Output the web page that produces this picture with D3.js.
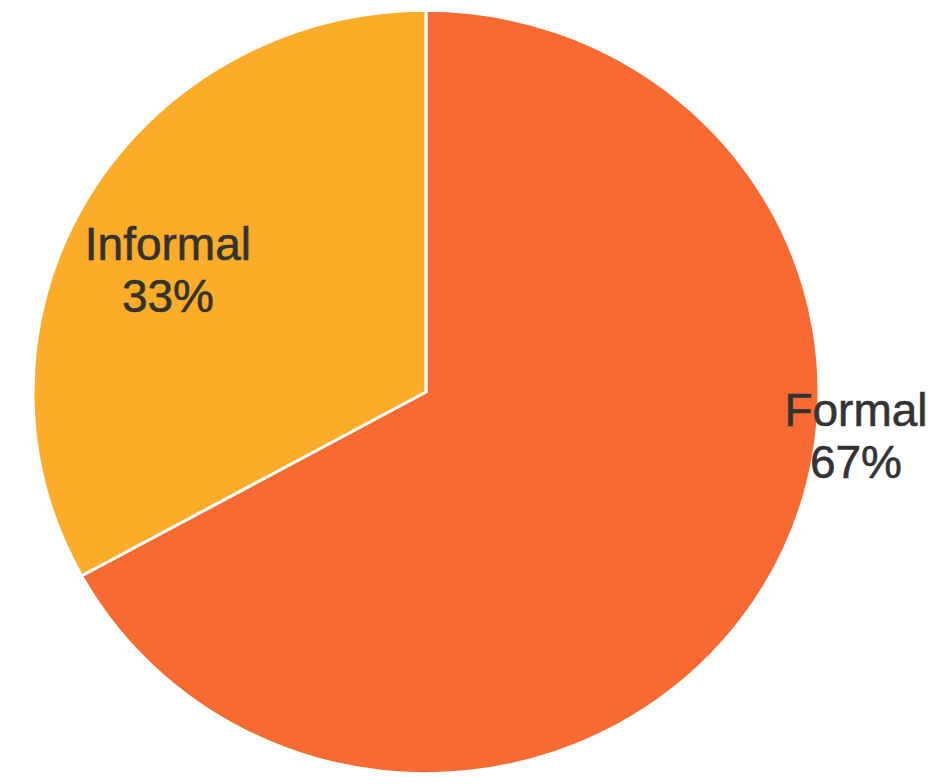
<!DOCTYPE html>
<html>
<head>
<meta charset="utf-8">
<script src="https://cdn.jsdelivr.net/npm/d3@7"></script>
<style>
  html, body { margin: 0; padding: 0; background: #fff; }
  svg { display: block; }
  .label { font-family: "Liberation Sans", Arial, sans-serif; font-size: 46px; fill: #333; stroke: #333; stroke-width: 0.6px; }
</style>
</head>
<body>
<div class="chart"></div>
<script>
const categories = ['Formal', 'Informal']
const values = [67, 33]
const colors = ['#f76b32', '#fbac29']

const width = 932
const height = 784
const cx = 426
const cy = 392
const radius = 393
const squash = 0.971

const svg = d3.select('.chart')
  .append('svg')
  .attr('width', width)
  .attr('height', height)

const pie = d3.pie().sort(null).value(d => d)
const arcs = pie(values)
const arc = d3.arc().innerRadius(0).outerRadius(radius)

const g = svg.append('g')
  .attr('transform', `translate(${cx},${cy}) scale(1,${squash})`)

g.selectAll('path')
  .data(arcs)
  .enter()
  .append('path')
  .attr('d', arc)
  .attr('fill', (_, i) => colors[i])
  .attr('stroke', '#fff')
  .attr('stroke-width', 3)
  .attr('stroke-linejoin', 'miter')

// label placement: informal inside the slice, formal pushed past the right edge
const labelPos = [
  d => [radius + 37, 60],
  d => {
    const a = (d.startAngle + d.endAngle) / 2
    const r = radius * 0.763
    return [Math.sin(a) * r, -Math.cos(a) * r + 47]
  }
]

const labels = svg.append('g')
  .attr('transform', `translate(${cx},${cy})`)

arcs.forEach((d, i) => {
  const [x, y] = labelPos[i](d)
  const pct = Math.round(d.value / d3.sum(values) * 100) + '%'
  const t = labels.append('text')
    .attr('class', 'label')
    .attr('text-anchor', 'middle')
    .attr('x', x)
    .attr('y', y - 26)
  t.append('tspan').attr('x', x).text(categories[i])
  t.append('tspan').attr('x', x).attr('dy', 52).text(pct)
})
</script>
</body>
</html>
